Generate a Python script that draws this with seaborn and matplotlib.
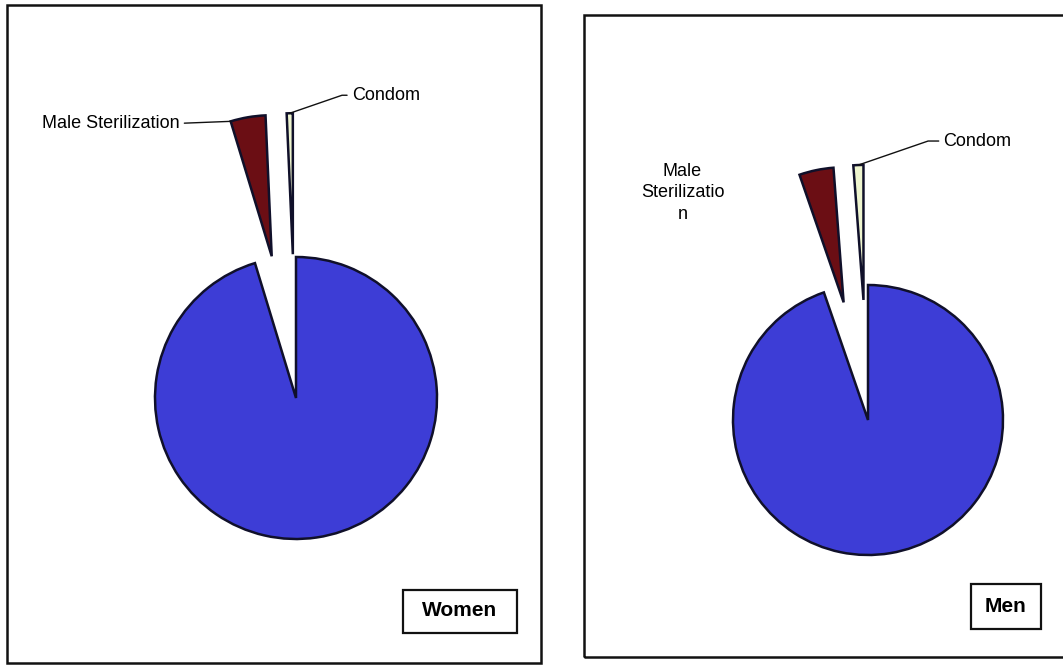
import matplotlib
matplotlib.use("Agg")
import matplotlib.pyplot as plt
from matplotlib.patches import Rectangle
import numpy as np
import seaborn as sns

# share of each method (%)
methods = ["Female Sterilization", "Male Sterilization", "Condom"]
women_share = [95.3, 4.0, 0.7]
men_share = [94.7, 4.1, 1.2]
slice_colors = ["#3d3dd6", "#6b0e14", "#eef5cf"]
panel_names = ["Women", "Men"]

sns.set_theme(style="white")
plt.rcParams["font.family"] = ["Liberation Sans", "DejaVu Sans"]
plt.rcParams["text.color"] = "black"

W, H = 1063, 666
fig = plt.figure(figsize=(W / 100, H / 100), dpi=100)
fig.patch.set_facecolor("white")


def fig_box(x0, y0, x1, y1):
    # pixel box (top-left origin) -> figure fraction [left, bottom, w, h]
    return [x0 / W, 1 - y1 / H, (x1 - x0) / W, (y1 - y0) / H]


def add_rect(x0, y0, x1, y1, lw):
    l, b, w, h = fig_box(x0, y0, x1, y1)
    fig.add_artist(Rectangle((l, b), w, h, transform=fig.transFigure,
                             fill=False, lw=lw, ec="#111111"))


def outer_point(wedge, ang):
    a = np.radians(ang)
    return (wedge.center[0] + wedge.r * np.cos(a),
            wedge.center[1] + wedge.r * np.sin(a))


def draw_pie(center, radius, shares, explode):
    span = 2.3
    cx, cy = center
    ax = fig.add_axes(fig_box(cx - span * radius, cy - span * radius,
                              cx + span * radius, cy + span * radius))
    wedges, _ = ax.pie(shares, colors=slice_colors, startangle=90,
                       counterclock=False, explode=[0, explode, explode],
                       wedgeprops=dict(edgecolor="#10102a", linewidth=1.8))
    ax.set_xlim(-span, span)
    ax.set_ylim(-span, span)
    ax.set_axis_off()
    return ax, wedges


line_kw = dict(arrowstyle="-", color="#111111", lw=1.0, shrinkA=1, shrinkB=0)

# panel frames
add_rect(7, 5, 541, 663, 1.8)
add_rect(584, 15, 1075, 657, 1.8)

# Women
ax, wedges = draw_pie((296, 398), 141, women_share, 1.02)
red, condom = wedges[1], wedges[2]
ax.annotate(methods[1], xy=outer_point(red, red.theta2), xytext=(-51, -2),
            textcoords="offset pixels", ha="right", va="center", fontsize=13,
            arrowprops=dict(**line_kw, relpos=(1, 0.5)))
ax.annotate(methods[2], xy=outer_point(condom, (condom.theta1 + condom.theta2) / 2),
            xytext=(62, 18), textcoords="offset pixels", ha="left", va="center",
            fontsize=13,
            arrowprops=dict(**line_kw, relpos=(0, 0.5),
                            connectionstyle="angle,angleA=0,angleB=19,rad=0"))
add_rect(403, 590, 517, 633, 1.6)
fig.text(460 / W, 1 - 611 / H, panel_names[0], ha="center", va="center",
         fontsize=15, fontweight="bold")

# Men
ax, wedges = draw_pie((868, 420), 135, men_share, 0.89)
red, condom = wedges[1], wedges[2]
ax.annotate("Male\nSterilizatio\nn", xy=outer_point(red, red.theta2),
            xytext=(-117, -18), textcoords="offset pixels", ha="center",
            va="center", multialignment="center", linespacing=1.35, fontsize=13)
ax.annotate(methods[2], xy=outer_point(condom, (condom.theta1 + condom.theta2) / 2),
            xytext=(85, 24), textcoords="offset pixels", ha="left", va="center",
            fontsize=13,
            arrowprops=dict(**line_kw, relpos=(0, 0.5),
                            connectionstyle="angle,angleA=0,angleB=19,rad=0"))
add_rect(971, 584, 1041, 629, 1.6)
fig.text(1006 / W, 1 - 606 / H, panel_names[1], ha="center", va="center",
         fontsize=15, fontweight="bold")

fig.savefig("out.png", dpi=100)
